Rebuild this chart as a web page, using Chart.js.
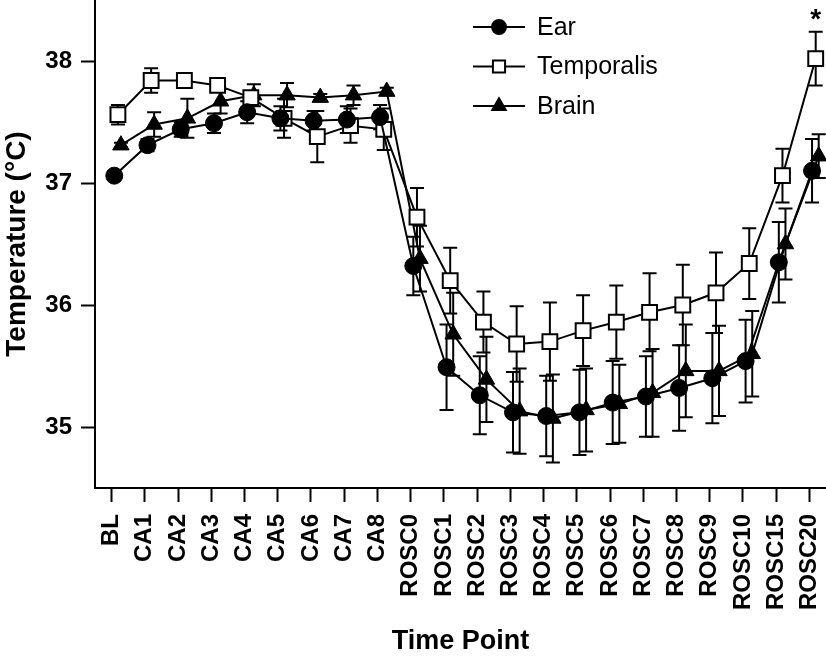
<!DOCTYPE html>
<html>
<head>
<meta charset="utf-8">
<script src="https://cdn.jsdelivr.net/npm/chart.js@4/dist/chart.umd.min.js"></script>
<style>
  html, body { margin: 0; padding: 0; background: #fff; }
  #wrap { width: 826px; height: 658px; }
</style>
</head>
<body>
<div id="wrap"><canvas id="tempChart" width="826" height="658"></canvas></div>
<script>
// time points on the x axis
const timePoints = ['BL', 'CA1', 'CA2', 'CA3', 'CA4', 'CA5', 'CA6', 'CA7', 'CA8',
  'ROSC0', 'ROSC1', 'ROSC2', 'ROSC3', 'ROSC4', 'ROSC5', 'ROSC6', 'ROSC7', 'ROSC8', 'ROSC9',
  'ROSC10', 'ROSC15', 'ROSC20'];

// mean temperature (°C) and SEM
const earMean = [37.06, 37.31, 37.44, 37.49, 37.58, 37.53, 37.51, 37.52, 37.54,
  36.32, 35.49, 35.26, 35.12, 35.09, 35.12, 35.20, 35.25, 35.32, 35.40, 35.54, 36.35, 37.10];
const earSem = [0.02, 0.05, 0.06, 0.08, 0.09, 0.10, 0.08, 0.11, 0.10,
  0.24, 0.35, 0.32, 0.33, 0.33, 0.35, 0.34, 0.33, 0.35, 0.37, 0.34, 0.33, 0.26];

const temporalisMean = [37.56, 37.84, 37.84, 37.80, 37.70, 37.53, 37.38, 37.47, 37.44,
  36.72, 36.20, 35.86, 35.68, 35.70, 35.79, 35.86, 35.94, 36.00, 36.10, 36.34, 37.06, 38.02];
const temporalisSem = [0.08, 0.10, 0.03, 0.04, 0.05, 0.16, 0.21, 0.14, 0.17,
  0.24, 0.27, 0.25, 0.31, 0.32, 0.29, 0.30, 0.32, 0.33, 0.33, 0.29, 0.22, 0.22];

const brainMean = [37.31, 37.48, 37.53, 37.67, 37.72, 37.72, 37.70, 37.72, 37.75,
  36.38, 35.76, 35.39, 35.13, 35.07, 35.14, 35.19, 35.28, 35.46, 35.46, 35.60, 36.50, 37.22];
const brainSem = [0.02, 0.10, 0.16, 0.10, 0.09, 0.10, 0.03, 0.08, 0.03,
  0.27, 0.34, 0.35, 0.35, 0.36, 0.34, 0.32, 0.36, 0.38, 0.37, 0.35, 0.29, 0.18];

const yTicks = [35, 36, 37, 38];

// significance marks
const sigMarks = [{ series: 'Temporalis', at: 'ROSC20', text: '*' }];

const FONT = '"Liberation Sans", Arial, sans-serif';

// small horizontal dodge so the series don't sit on top of each other
function toPoints(mean, sem, dodge) {
  return mean.map((v, i) => ({ x: i + dodge, y: v, sem: sem[i] }));
}

// draw SEM whiskers behind the markers
const errorBars = {
  id: 'errorBars',
  beforeDatasetsDraw(chart) {
    const { ctx, scales: { x, y } } = chart;
    ctx.save();
    ctx.strokeStyle = '#000';
    ctx.lineWidth = 2;
    chart.data.datasets.forEach(ds => {
      ds.data.forEach(pt => {
        const px = x.getPixelForValue(pt.x);
        const top = y.getPixelForValue(pt.y + pt.sem);
        const bot = y.getPixelForValue(pt.y - pt.sem);
        ctx.beginPath();
        ctx.moveTo(px, top); ctx.lineTo(px, bot);
        ctx.moveTo(px - 7, top); ctx.lineTo(px + 7, top);
        ctx.moveTo(px - 7, bot); ctx.lineTo(px + 7, bot);
        ctx.stroke();
      });
    });
    ctx.restore();
  }
};

// asterisk above the marked point
const sigPlugin = {
  id: 'sigPlugin',
  afterDatasetsDraw(chart) {
    const { ctx, scales: { x, y } } = chart;
    ctx.save();
    ctx.fillStyle = '#000';
    ctx.font = 'bold 28px ' + FONT;
    ctx.textAlign = 'center';
    ctx.textBaseline = 'alphabetic';
    sigMarks.forEach(m => {
      const ds = chart.data.datasets.find(d => d.label === m.series);
      const pt = ds.data[timePoints.indexOf(m.at)];
      ctx.fillText(m.text, x.getPixelForValue(pt.x), y.getPixelForValue(pt.y + pt.sem) - 4);
    });
    ctx.restore();
  }
};

// legend with line + marker like the original
const markerLegend = {
  id: 'markerLegend',
  afterDraw(chart) {
    const { ctx } = chart;
    ctx.save();
    chart.data.datasets.forEach((ds, i) => {
      const cy = 27 + i * 39.5;
      ctx.strokeStyle = '#000';
      ctx.lineWidth = 2;
      ctx.beginPath();
      ctx.moveTo(473, cy);
      ctx.lineTo(525, cy);
      ctx.stroke();
      ctx.fillStyle = ds.pointBackgroundColor;
      Chart.helpers.drawPoint(ctx, {
        pointStyle: ds.pointStyle,
        radius: ds.pointRadius * 0.82,
        borderWidth: 2,
        rotation: 0
      }, 499, cy);
      ctx.fillStyle = '#000';
      ctx.font = '25px ' + FONT;
      ctx.textAlign = 'left';
      ctx.textBaseline = 'middle';
      ctx.fillText(ds.label, 537, cy + 1);
    });
    ctx.restore();
  }
};

const ctx = document.getElementById('tempChart').getContext('2d');
const tempChart = new Chart(ctx, {
  type: 'line',
  data: {
    datasets: [
      {
        label: 'Ear',
        data: toPoints(earMean, earSem, 0.08),
        borderColor: '#000',
        borderWidth: 2,
        pointStyle: 'circle',
        pointRadius: 8.5,
        pointBackgroundColor: '#000',
        pointBorderColor: '#000',
        pointBorderWidth: 1,
        clip: false
      },
      {
        label: 'Temporalis',
        data: toPoints(temporalisMean, temporalisSem, 0.19),
        borderColor: '#000',
        borderWidth: 2,
        pointStyle: 'rect',
        pointRadius: 10.5,
        pointBackgroundColor: '#fff',
        pointBorderColor: '#000',
        pointBorderWidth: 2,
        clip: false
      },
      {
        label: 'Brain',
        data: toPoints(brainMean, brainSem, 0.28),
        borderColor: '#000',
        borderWidth: 2,
        pointStyle: 'triangle',
        pointRadius: 9.5,
        pointBackgroundColor: '#000',
        pointBorderColor: '#000',
        pointBorderWidth: 1,
        clip: false
      }
    ]
  },
  options: {
    responsive: false,
    animation: false,
    devicePixelRatio: 1,
    layout: { padding: 0, autoPadding: false },
    plugins: {
      legend: { display: false },
      tooltip: { enabled: false }
    },
    scales: {
      x: {
        type: 'linear',
        min: -0.5,
        max: timePoints.length - 0.5,
        afterBuildTicks: axis => { axis.ticks = timePoints.map((_, i) => ({ value: i })); },
        afterFit: axis => { axis.height = 170; axis.paddingLeft = 0; axis.paddingRight = 0; },
        ticks: {
          autoSkip: false,
          minRotation: 90,
          maxRotation: 90,
          padding: 12,
          color: '#000',
          font: { family: FONT, size: 24, weight: 'bold' },
          callback: v => timePoints[v] ?? ''
        },
        grid: { drawOnChartArea: false, drawTicks: true, tickLength: 14, tickWidth: 2, tickColor: '#000' },
        border: { display: true, color: '#000', width: 2 },
        title: {
          display: true,
          text: 'Time Point',
          color: '#000',
          font: { family: FONT, size: 27, weight: 'bold' },
          padding: 0
        }
      },
      y: {
        min: 34.5,
        max: 38.5,
        afterBuildTicks: axis => { axis.ticks = yTicks.map(v => ({ value: v })); },
        afterFit: axis => { axis.width = 95; axis.paddingTop = 0; axis.paddingBottom = 0; },
        ticks: {
          padding: 9,
          color: '#000',
          font: { family: FONT, size: 24, weight: 'bold' }
        },
        grid: { drawOnChartArea: false, drawTicks: true, tickLength: 14, tickWidth: 2, tickColor: '#000' },
        border: { display: true, color: '#000', width: 2 },
        title: {
          display: true,
          text: 'Temperature (°C)',
          color: '#000',
          font: { family: FONT, size: 28, weight: 'bold' },
          padding: 0
        }
      }
    }
  },
  plugins: [errorBars, sigPlugin, markerLegend]
});
</script>
</body>
</html>
